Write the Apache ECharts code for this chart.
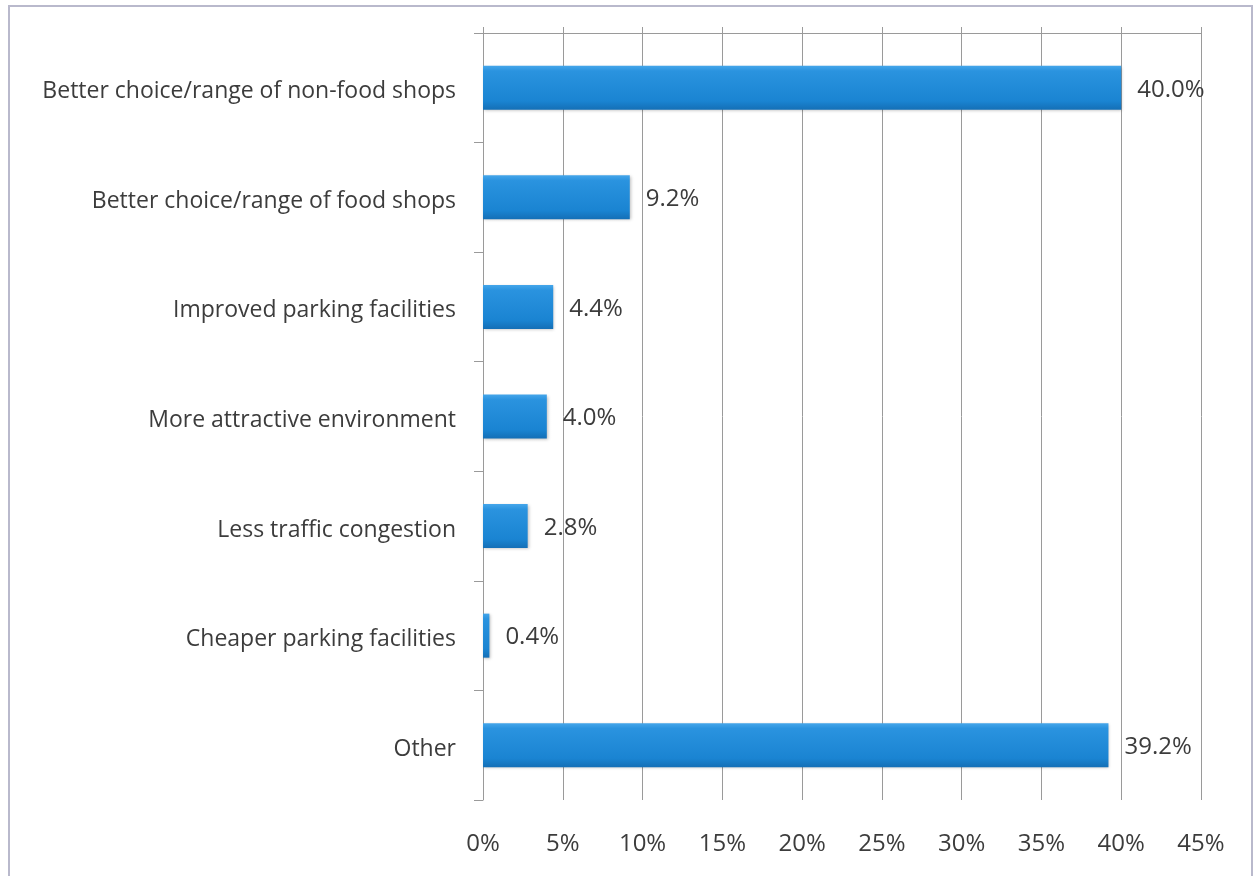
<!DOCTYPE html>
<html>
<head>
<meta charset="utf-8">
<script src="https://cdn.jsdelivr.net/npm/echarts@6/dist/echarts.min.js"></script>
<style>
  html, body { margin: 0; padding: 0; background: #ffffff; }
  #chart { width: 1256px; height: 876px; }
</style>
</head>
<body>
<div id="chart"></div>
<script>
// Survey answers: what would make the town centre more attractive
const categories = [
  'Better choice/range of non-food shops',
  'Better choice/range of food shops',
  'Improved parking facilities',
  'More attractive environment',
  'Less traffic congestion',
  'Cheaper parking facilities',
  'Other'
];
const shares = [40.0, 9.2, 4.4, 4.0, 2.8, 0.4, 39.2];
const axisMax = 45;
const axisStep = 5;

const FONT = '"Open Sans", Lato, sans-serif';
const TEXT = '#3c3c3c';
const GRID = '#9a9a9a';

const chart = echarts.init(document.getElementById('chart'), null, { renderer: 'canvas' });

chart.setOption({
  animation: false,
  backgroundColor: '#ffffff',
  graphic: [{
    type: 'rect',
    shape: { x: 9, y: 6, width: 1243, height: 890 },
    style: { fill: 'none', stroke: '#b9b9cc', lineWidth: 2 },
    silent: true
  }],
  grid: { left: 483, right: 55, top: 33, bottom: 76, containLabel: false },
  xAxis: [{
    type: 'value',
    position: 'bottom',
    min: 0,
    max: axisMax,
    interval: axisStep,
    axisLine: { show: false },
    axisTick: { show: false },
    splitLine: { show: true, lineStyle: { color: GRID, width: 1 } },
    axisLabel: {
      margin: 32,
      color: TEXT,
      fontFamily: FONT,
      fontSize: 24,
      formatter: v => v + '%'
    }
  }, {
    type: 'value',
    position: 'top',
    min: 0,
    max: axisMax,
    interval: axisStep,
    axisLine: { show: true, lineStyle: { color: GRID, width: 1 } },
    axisTick: { show: true, length: 6, lineStyle: { color: GRID } },
    axisLabel: { show: false },
    splitLine: { show: false }
  }],
  yAxis: {
    type: 'category',
    inverse: true,
    data: categories,
    axisLine: { show: true, lineStyle: { color: GRID, width: 1 } },
    axisTick: { show: true, length: 9, lineStyle: { color: GRID } },
    axisLabel: {
      margin: 27,
      formatter: v => '{t|' + v + '}',
      rich: {
        t: {
          color: TEXT,
          fontFamily: FONT,
          fontSize: 23,
          padding: [8, 0, 0, 0]
        }
      }
    }
  },
  series: [{
    type: 'bar',
    xAxisIndex: 0,
    data: shares,
    barWidth: 44,
    itemStyle: {
      color: new echarts.graphic.LinearGradient(0, 0, 0, 1, [
        { offset: 0, color: '#45a6ea' },
        { offset: 0.12, color: '#2a93df' },
        { offset: 0.8, color: '#1a84d2' },
        { offset: 1, color: '#146fb6' }
      ]),
      shadowColor: 'rgba(0,0,0,0.25)',
      shadowBlur: 3,
      shadowOffsetX: 1,
      shadowOffsetY: 1
    },
    label: {
      show: true,
      position: 'right',
      distance: 16,
      color: TEXT,
      fontFamily: FONT,
      fontSize: 24,
      offset: [0, 2],
      formatter: p => p.value.toFixed(1) + '%'
    }
  }]
});
</script>
</body>
</html>
